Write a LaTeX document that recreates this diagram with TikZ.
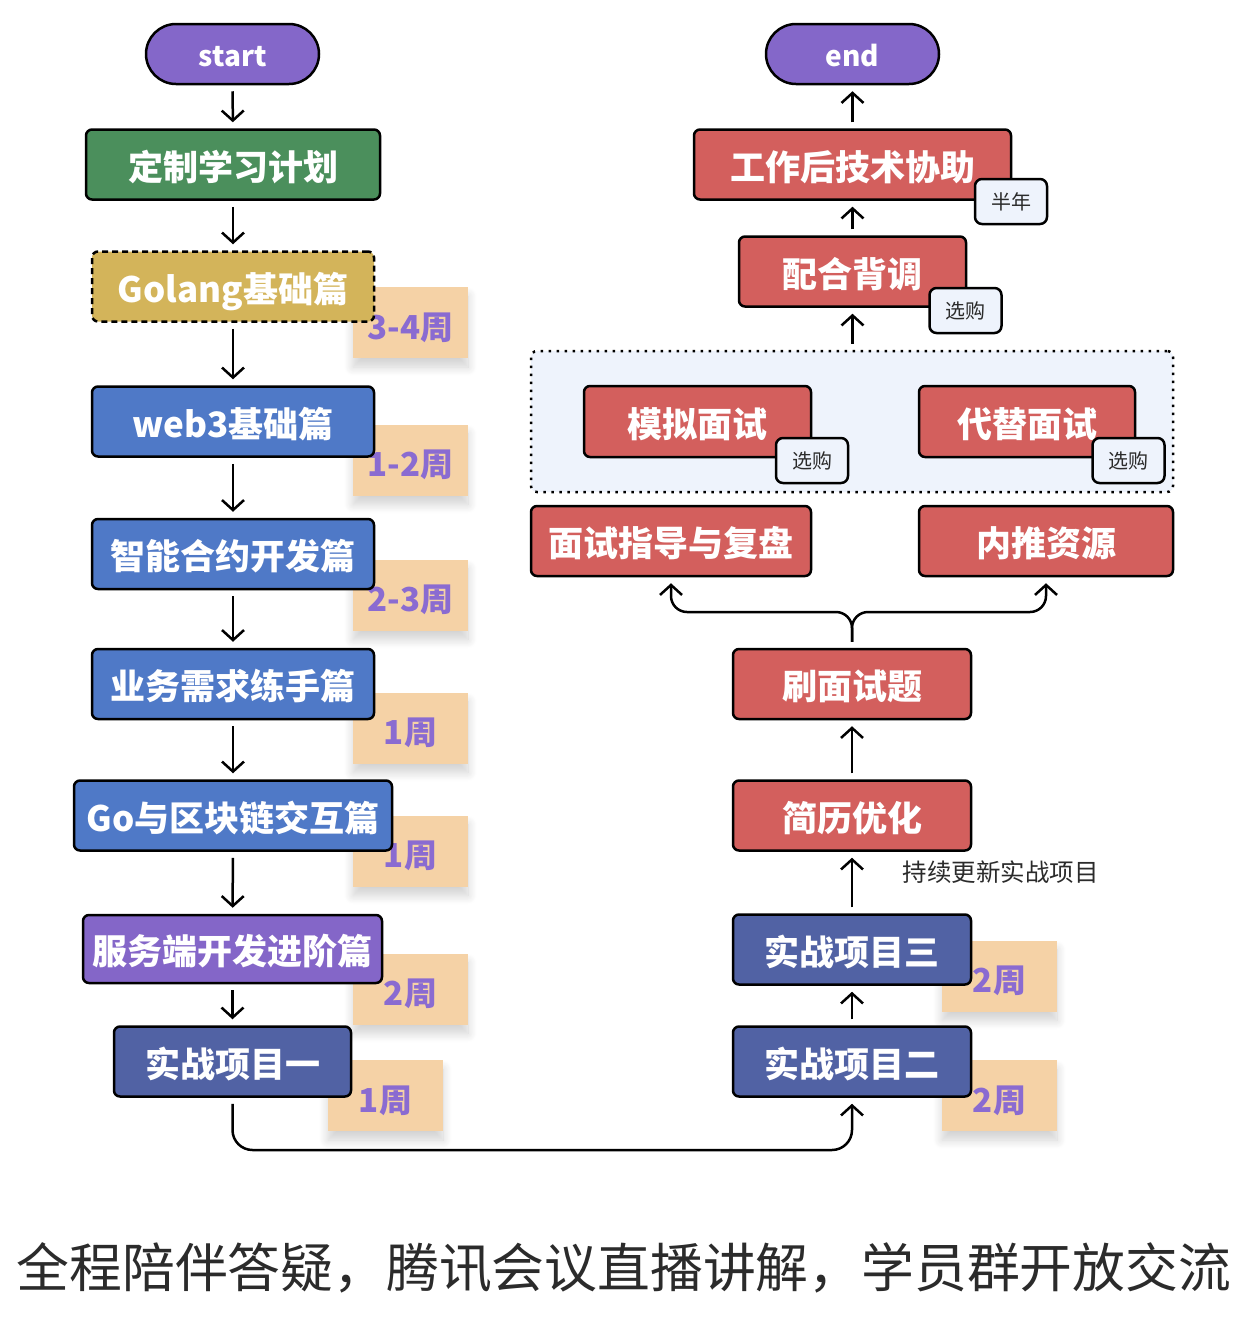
\documentclass[tikz,border=0pt]{standalone}
\usepackage{fontspec}
\setmainfont{Noto Sans CJK SC}
\usepackage{xcolor}
\usetikzlibrary{arrows.meta, positioning, shadows.blur}

\definecolor{pillpurple}{HTML}{8467C9}
\definecolor{plangreen}{HTML}{4B8F5C}
\definecolor{golangold}{HTML}{D3B45A}
\definecolor{stageblue}{HTML}{4F79C7}
\definecolor{advpurple}{HTML}{8466C8}
\definecolor{projblue}{HTML}{5162A4}
\definecolor{jobred}{HTML}{D35F5D}
\definecolor{tagpeach}{HTML}{F5D2A6}
\definecolor{tagpurple}{HTML}{8A6BD1}
\definecolor{paleblue}{HTML}{EEF3FC}
\definecolor{darktext}{HTML}{2B2B2B}

\begin{document}
\begin{tikzpicture}[
    x=1pt, y=-1pt,
    stage/.style={draw, line width=2.5pt, rounded corners=6pt, minimum height=70pt,
                  inner sep=0pt, text height=31.5pt, text depth=0pt, text=white,
                  font=\fontsize{35}{40}\selectfont\bfseries},
    pill/.style={stage, rounded corners=30pt, minimum width=173pt, minimum height=60pt,
                 text height=25pt, fill=pillpurple, font=\fontsize{28}{32}\selectfont\bfseries},
    weeks/.style={fill=tagpeach, minimum width=115pt, minimum height=71pt, inner sep=0pt,
                  text height=33pt, text depth=0pt,
                  text=tagpurple, font=\fontsize{33}{38}\selectfont\bfseries,
                  blur shadow={shadow xshift=0pt, shadow yshift=-9pt, shadow blur radius=9pt,
                               shadow opacity=18, shadow blur steps=10}},
    buy/.style={draw, line width=2.5pt, rounded corners=7pt, fill=paleblue, minimum width=72pt,
                minimum height=45pt, inner sep=0pt, text=darktext, font=\fontsize{20}{24}\selectfont},
    arr/.style={-{Straight Barb[length=10pt, width=22pt]}, line width=2.5pt,
                shorten <=6pt, shorten >=6pt}
]
\useasboundingbox (0,0) rectangle (1258,1320);

% week tags sit behind the boxes
\node[weeks] (wgolang) at (410.5,322.5) {3-4周};
\node[weeks] (wweb3) at (410.5,460) {1-2周};
\node[weeks] (wcontract) at (410.5,595) {2-3周};
\node[weeks] (wbiz) at (410.5,728) {1周};
\node[weeks] (wchain) at (410.5,851) {1周};
\node[weeks] (wserver) at (410.5,989) {2周};
\node[weeks] (wproj1) at (385.5,1095.5) {1周};
\node[weeks] (wproj3) at (999.5,976) {2周};
\node[weeks] (wproj2) at (999.5,1095.5) {2周};

% left column
\node[pill] (start) at (232.5,54) {start};
\node[stage, fill=plangreen, minimum width=294pt] (plan) at (233,164.5) {定制学习计划};
\node[stage, fill=golangold, minimum width=282pt, dash pattern=on 6pt off 4pt] (golang) at (233,286.5) {Golang基础篇};
\node[stage, fill=stageblue, minimum width=282pt] (web3) at (233,421.5) {web3基础篇};
\node[stage, fill=stageblue, minimum width=282pt] (contract) at (233,554) {智能合约开发篇};
\node[stage, fill=stageblue, minimum width=282pt] (biz) at (233,684) {业务需求练手篇};
\node[stage, fill=stageblue, minimum width=318pt] (chain) at (233,815.5) {Go与区块链交互篇};
\node[stage, fill=advpurple, minimum width=299pt, minimum height=68pt] (server) at (232.5,949) {服务端开发进阶篇};
\node[stage, fill=projblue, minimum width=237pt] (proj1) at (232.5,1061.5) {实战项目一};

% right column
\node[pill] (finish) at (852.5,54) {end};
\node[stage, fill=jobred, minimum width=317pt] (support) at (852.5,164.5) {工作后技术协助};
\node[buy] (tsupport) at (1011,201.5) {半年};
\node[stage, fill=jobred, minimum width=227pt] (check) at (852.5,271.5) {配合背调};
\node[buy] (tcheck) at (965.5,310.5) {选购};
\node[draw, line width=2.5pt, dash pattern=on 2.5pt off 5.5pt, rounded corners=6pt, fill=paleblue,
      minimum width=642pt, minimum height=141pt] (group) at (852,421.5) {};
\node[stage, fill=jobred, minimum width=227pt, minimum height=71pt] (mock) at (697.5,421.5) {模拟面试};
\node[buy] (tmock) at (812,460.5) {选购};
\node[stage, fill=jobred, minimum width=216pt, minimum height=71pt] (proxy) at (1027,421.5) {代替面试};
\node[buy] (tproxy) at (1128.5,460.5) {选购};
\node[stage, fill=jobred, minimum width=280pt] (guide) at (671,541) {面试指导与复盘};
\node[stage, fill=jobred, minimum width=254pt] (referral) at (1046,541) {内推资源};
\node[stage, fill=jobred, minimum width=238pt] (drill) at (852,684) {刷面试题};
\node[stage, fill=jobred, minimum width=238pt] (resume) at (852,815.5) {简历优化};
\node[stage, fill=projblue, minimum width=238pt] (proj3) at (852,949.5) {实战项目三};
\node[stage, fill=projblue, minimum width=238pt] (proj2) at (852,1061.5) {实战项目二};
\node[anchor=west, text=darktext, font=\fontsize{24.5}{28}\selectfont] (keepup) at (899,872) {持续更新实战项目};

\node[text=darktext, font=\fontsize{52.8}{60}\selectfont] (slogan) at (624,1268) {全程陪伴答疑，腾讯会议直播讲解，学员群开放交流};

\coordinate (bottomline) at (0,1150);
\coordinate (fork) at (852,612);

% left chain
\draw[arr] (start) -- (plan);
\draw[arr] (plan) -- (golang);
\draw[arr] (golang) -- (web3);
\draw[arr] (web3) -- (contract);
\draw[arr] (contract) -- (biz);
\draw[arr] (biz) -- (chain);
\draw[arr] (chain) -- (server);
\draw[arr] (server) -- (proj1);
\draw[arr, rounded corners=20pt] (proj1.south) -- (proj1.south |- bottomline) -| (proj2.south);

% right chain
\draw[arr] (proj2) -- (proj3);
\draw[arr] (proj3) -- (resume);
\draw[arr] (resume) -- (drill);
\draw[arr, rounded corners=16pt] (drill.north) -- (fork) -| (guide.south);
\draw[arr, rounded corners=16pt] (drill.north) -- (fork) -| (referral.south);
\draw[arr] (group.north -| check) -- (check);
\draw[arr] (check) -- (support);
\draw[arr] (support) -- (finish);
\end{tikzpicture}
\end{document}
